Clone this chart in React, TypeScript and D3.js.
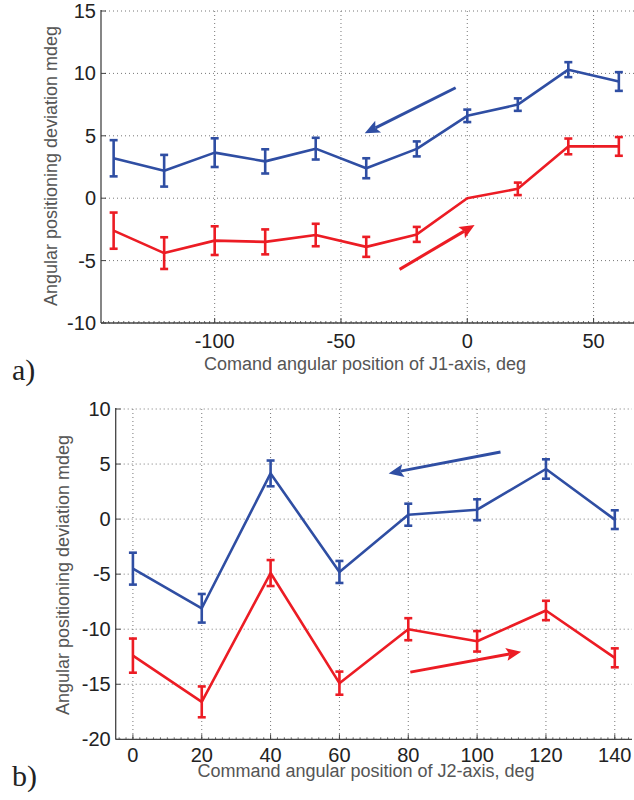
import React from "react";
import * as d3 from "d3";

// ---- Panel a) data (J1-axis) ----
const xA = [-140, -120, -100, -80, -60, -40, -20, 0, 20, 40, 60];
const blueA = [3.2, 2.2, 3.65, 2.95, 3.97, 2.4, 3.95, 6.6, 7.5, 10.3, 9.35];
const blueErrA = [1.45, 1.27, 1.15, 0.97, 0.87, 0.8, 0.6, 0.5, 0.5, 0.6, 0.75];
const redA = [-2.6, -4.4, -3.4, -3.5, -2.95, -3.9, -2.9, 0, 0.75, 4.15, 4.15];
const redErrA = [1.45, 1.27, 1.15, 1.0, 0.9, 0.8, 0.6, 0, 0.5, 0.63, 0.75];
const xTicksA = [-100, -50, 0, 50];
const yTicksA = [-10, -5, 0, 5, 10, 15];
// arrows [x1, y1, x2, y2] in data units
const arrowBlueA = [-4.6, 8.85, -40.6, 5.2];
const arrowRedA = [-26.8, -5.7, 2.9, -2.15];

// ---- Panel b) data (J2-axis) ----
const xB = [0, 20, 40, 60, 80, 100, 120, 140];
const blueB = [-4.5, -8.1, 4.15, -4.8, 0.4, 0.85, 4.55, -0.05];
const blueErrB = [1.45, 1.3, 1.17, 1.0, 1.0, 0.95, 0.88, 0.85];
const redB = [-12.4, -16.6, -4.9, -14.9, -10.0, -11.1, -8.3, -12.6];
const redErrB = [1.55, 1.4, 1.18, 1.05, 1.0, 0.93, 0.88, 0.86];
const xTicksB = [0, 20, 40, 60, 80, 100, 120, 140];
const yTicksB = [-20, -15, -10, -5, 0, 5, 10];
const arrowBlueB = [106.8, 6.1, 74.3, 4.15];
const arrowRedB = [80.6, -13.9, 112.8, -12.05];

const BLUE = "#2f4ea3";
const RED = "#ec1c24";
const AXIS = "#444";
const GRID = "#777";
const TITLE = "#555";
const SANS = "'Liberation Sans', Arial, sans-serif";

type PanelProps = {
  xDomain: [number, number];
  xRange: [number, number];
  yDomain: [number, number];
  yRange: [number, number];
  xs: number[];
  blue: number[];
  blueErr: number[];
  red: number[];
  redErr: number[];
  xTicks: number[];
  yTicks: number[];
  arrowBlue: number[];
  arrowRed: number[];
  xTitle: string;
  xTitleX: number;
  xTitleY: number;
  xTickLabelY: number;
  yTitle: string;
  yTitleX: number;
  yTitleY: number;
  label: string;
  labelY: number;
};

function Arrow({ x1, y1, x2, y2, color }: { x1: number; y1: number; x2: number; y2: number; color: string }) {
  const ang = Math.atan2(y2 - y1, x2 - x1);
  const L = 15;
  const W = 6.5;
  const bx = x2 - L * Math.cos(ang);
  const by = y2 - L * Math.sin(ang);
  const px = -Math.sin(ang);
  const py = Math.cos(ang);
  const notch = 3;
  const nx = x2 - (L - notch) * Math.cos(ang);
  const ny = y2 - (L - notch) * Math.sin(ang);
  return (
    <g>
      <line x1={x1} y1={y1} x2={nx} y2={ny} stroke={color} strokeWidth={3} />
      <path
        d={`M${x2},${y2} L${bx + W * px},${by + W * py} L${nx},${ny} L${bx - W * px},${by - W * py} Z`}
        fill={color}
      />
    </g>
  );
}

function Panel(p: PanelProps) {
  const x = d3.scaleLinear().domain(p.xDomain).range(p.xRange);
  const y = d3.scaleLinear().domain(p.yDomain).range(p.yRange);
  const left = p.xRange[0];
  const right = p.xRange[1];
  const bottom = p.yRange[0];
  const top = p.yRange[1];
  const line = d3
    .line<number>()
    .x((_, i) => x(p.xs[i]))
    .y((d) => y(d));
  const minor = x.ticks(100);
  const capW = 4;

  const series = [
    { vals: p.blue, errs: p.blueErr, color: BLUE },
    { vals: p.red, errs: p.redErr, color: RED },
  ];

  return (
    <g>
      {/* grid */}
      {p.xTicks.map((t) => (
        <line key={"gx" + t} x1={x(t)} x2={x(t)} y1={top} y2={bottom} stroke={GRID} strokeWidth={1} strokeDasharray="1,3" />
      ))}
      {p.yTicks.map((t) => (
        <line key={"gy" + t} x1={left} x2={right} y1={y(t)} y2={y(t)} stroke={GRID} strokeWidth={1} strokeDasharray="1,3" />
      ))}
      {/* axes */}
      <line x1={left} x2={left} y1={top - 1} y2={bottom} stroke={AXIS} strokeWidth={1.3} />
      <line x1={left} x2={right} y1={bottom} y2={bottom} stroke={AXIS} strokeWidth={1.3} />
      {minor.map((t) => (
        <line key={"mx" + t} x1={x(t)} x2={x(t)} y1={bottom} y2={bottom - 2} stroke={AXIS} strokeWidth={0.8} />
      ))}
      {p.xTicks.map((t) => (
        <line key={"tx" + t} x1={x(t)} x2={x(t)} y1={bottom} y2={bottom - 5} stroke={AXIS} strokeWidth={1} />
      ))}
      {p.yTicks.map((t) => (
        <line key={"ty" + t} x1={left} x2={left + 5} y1={y(t)} y2={y(t)} stroke={AXIS} strokeWidth={1} />
      ))}
      {/* tick labels */}
      {p.yTicks.map((t) => (
        <text key={"ly" + t} x={left - 5} y={y(t) + 7} textAnchor="end" fontFamily={SANS} fontSize={20} fill="#222">
          {t}
        </text>
      ))}
      {p.xTicks.map((t) => (
        <text key={"lx" + t} x={x(t)} y={p.xTickLabelY} textAnchor="middle" fontFamily={SANS} fontSize={20} fill="#222">
          {t}
        </text>
      ))}
      {/* titles */}
      <text x={p.xTitleX} y={p.xTitleY} textAnchor="middle" fontFamily={SANS} fontSize={18} fill={TITLE}>
        {p.xTitle}
      </text>
      <text
        transform={`translate(${p.yTitleX},${p.yTitleY}) rotate(-90)`}
        textAnchor="middle"
        fontFamily={SANS}
        fontSize={18}
        fill={TITLE}
      >
        {p.yTitle}
      </text>
      <text x={12} y={p.labelY} fontFamily="'Liberation Serif', 'DejaVu Serif', serif" fontSize={30} fill="#222">
        {p.label}
      </text>
      {/* series */}
      {series.map((s, si) => (
        <g key={"s" + si}>
          <path d={line(s.vals) || ""} fill="none" stroke={s.color} strokeWidth={2.6} strokeLinejoin="round" />
          {s.vals.map((v, i) =>
            s.errs[i] > 0 ? (
              <g key={i} stroke={s.color} strokeWidth={2.6}>
                <line x1={x(p.xs[i])} x2={x(p.xs[i])} y1={y(v - s.errs[i])} y2={y(v + s.errs[i])} />
                <line x1={x(p.xs[i]) - capW} x2={x(p.xs[i]) + capW} y1={y(v - s.errs[i])} y2={y(v - s.errs[i])} />
                <line x1={x(p.xs[i]) - capW} x2={x(p.xs[i]) + capW} y1={y(v + s.errs[i])} y2={y(v + s.errs[i])} />
              </g>
            ) : null
          )}
        </g>
      ))}
      <Arrow x1={x(p.arrowBlue[0])} y1={y(p.arrowBlue[1])} x2={x(p.arrowBlue[2])} y2={y(p.arrowBlue[3])} color={BLUE} />
      <Arrow x1={x(p.arrowRed[0])} y1={y(p.arrowRed[1])} x2={x(p.arrowRed[2])} y2={y(p.arrowRed[3])} color={RED} />
    </g>
  );
}

export default function App() {
  return (
    <div style={{ position: "absolute", left: 0, top: 0 }}>
      <svg width={634} height={800} style={{ display: "block", background: "#fff" }}>
        <Panel
          xDomain={[-145, 66]}
          xRange={[101, 634]}
          yDomain={[-10, 15]}
          yRange={[323, 11]}
          xs={xA}
          blue={blueA}
          blueErr={blueErrA}
          red={redA}
          redErr={redErrA}
          xTicks={xTicksA}
          yTicks={yTicksA}
          arrowBlue={arrowBlueA}
          arrowRed={arrowRedA}
          xTitle="Comand angular position of J1-axis, deg"
          xTitleX={365}
          xTitleY={370}
          xTickLabelY={348}
          yTitle="Angular positioning deviation mdeg"
          yTitleX={57}
          yTitleY={166}
          label="a)"
          labelY={380}
        />
        <Panel
          xDomain={[-5, 145]}
          xRange={[115.7, 632]}
          yDomain={[-20, 10]}
          yRange={[739.3, 409]}
          xs={xB}
          blue={blueB}
          blueErr={blueErrB}
          red={redB}
          redErr={redErrB}
          xTicks={xTicksB}
          yTicks={yTicksB}
          arrowBlue={arrowBlueB}
          arrowRed={arrowRedB}
          xTitle="Command angular position of J2-axis, deg"
          xTitleX={366}
          xTitleY={777}
          xTickLabelY={762}
          yTitle="Angular positioning deviation mdeg"
          yTitleX={69}
          yTitleY={575}
          label="b)"
          labelY={786}
        />
      </svg>
    </div>
  );
}
